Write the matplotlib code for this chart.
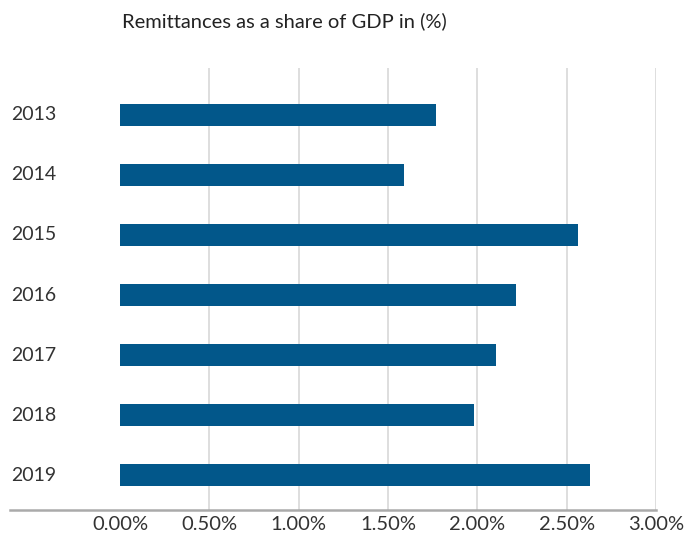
import matplotlib
matplotlib.use("Agg")
from matplotlib import pyplot as plt
from matplotlib.ticker import FuncFormatter

years = ["2013", "2014", "2015", "2016", "2017", "2018", "2019"]
share = [1.77, 1.59, 2.565, 2.215, 2.105, 1.98, 2.63]
ticks = [0, 0.5, 1.0, 1.5, 2.0, 2.5, 3.0]

plt.rcParams['font.family'] = ['Lato', 'DejaVu Sans']

fig = plt.figure(figsize=(6.85, 5.38), dpi=100)
ax = fig.add_axes([10 / 685, 28 / 538, 646 / 685, 442 / 538])

pos = list(range(len(years)))
ax.barh(pos, share, height=0.37, color="#02578a", zorder=3)

ax.set_xlim(-0.616, 3.0)
ax.set_ylim(6.58, -0.78)
ax.set_xticks(ticks)
ax.xaxis.set_major_formatter(FuncFormatter(lambda v, p: f"{v:.2f}%"))
ax.tick_params(axis="x", length=0, pad=4, labelsize=14.5, labelcolor="#333333")
ax.set_yticks([])
for t in ticks[1:]:
    ax.axvline(t, color="#d8d8d8", lw=1.2, zorder=1)

for i, y in enumerate(years):
    ax.text(-0.61, i, y, ha="left", va="center", fontsize=14, color="#333333")

for s in ["top", "right", "left"]:
    ax.spines[s].set_visible(False)
ax.spines["bottom"].set_color("#aaaaaa")
ax.spines["bottom"].set_linewidth(1.8)

fig.text(122 / 685, 1 - 21 / 538, "Remittances as a share of GDP in (%)",
         ha="left", va="center", fontsize=14.5, color="#222222")

fig.savefig("out.png", dpi=100)
